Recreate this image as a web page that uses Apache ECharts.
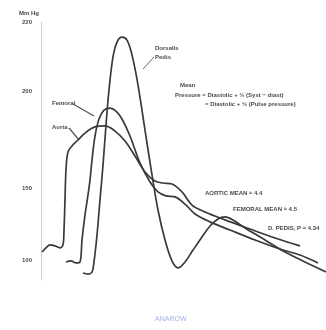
<!DOCTYPE html>
<html>
<head>
<meta charset="utf-8">
<script src="https://cdn.jsdelivr.net/npm/echarts@6/dist/echarts.min.js"></script>
<style>
  html, body { margin: 0; padding: 0; background: #ffffff; }
  #chart { width: 326px; height: 330px; }
</style>
</head>
<body>
<div id="chart"></div>
<script>
// Time after the start of the trace (ms) and pressure (mm Hg) for each vessel
const aortaTime = [3.5, 17.5, 31.6, 49.1, 66.7, 77.2, 80.7, 84.2, 87.7, 94.7, 108.8, 129.8, 154.4, 189.5, 224.6, 259.7, 294.8, 329.8, 364.9, 400.0, 428.1, 459.7, 494.7, 529.8, 575.5, 645.7, 733.4, 821.1, 908.8];
const aortaPressure = [104.0, 106.1, 107.6, 107.1, 106.1, 107.6, 115.1, 130.3, 145.4, 154.5, 157.5, 160.5, 164.0, 167.1, 167.6, 165.0, 160.0, 152.4, 144.4, 139.8, 138.8, 138.3, 134.3, 127.7, 124.2, 120.2, 115.6, 111.1, 107.1];

const femoralTime = [87.7, 105.3, 122.8, 136.8, 143.9, 154.4, 164.9, 171.9, 179.0, 189.5, 203.5, 221.1, 242.1, 263.2, 284.2, 312.3, 347.4, 382.5, 410.5, 438.6, 470.2, 505.3, 540.4, 593.0, 663.2, 750.9, 838.7, 908.8, 972.0];
const femoralPressure = [99.0, 99.5, 98.5, 99.0, 110.1, 122.7, 132.8, 140.3, 150.4, 162.5, 171.1, 175.6, 176.6, 175.1, 171.1, 162.5, 148.9, 139.3, 134.3, 132.3, 131.8, 128.2, 123.2, 119.2, 115.1, 110.1, 105.5, 102.5, 98.5];

const pedisTime = [147.4, 164.9, 179.0, 186.0, 196.5, 207.0, 217.6, 228.1, 238.6, 252.6, 266.7, 284.2, 301.8, 319.3, 340.4, 364.9, 389.5, 410.5, 435.1, 459.7, 480.7, 505.3, 533.4, 565.0, 593.0, 621.1, 645.7, 673.7, 715.8, 786.0, 856.1, 926.3, 1000];
const pedisPressure = [93.4, 92.9, 93.9, 99.0, 112.6, 130.3, 147.9, 168.1, 185.7, 202.4, 209.9, 212.4, 210.9, 203.4, 188.2, 165.5, 142.9, 125.2, 110.1, 99.5, 96.0, 99.0, 105.0, 111.6, 117.1, 120.7, 121.7, 120.2, 116.1, 110.1, 104.0, 99.0, 94.0];

// Pressure scale ticks and the text printed beside them
const tickValues = [100, 136, 185, 220];
const tickLabels = ['100', '150', '200', '220'];

function pairs(xs, ys) { return xs.map((x, i) => [x, ys[i]]); }

const chart = echarts.init(document.getElementById('chart'), null, { renderer: 'canvas' });

const ink = '#3a3a3a';
const txt = { fontFamily: 'Liberation Sans', fontWeight: 'bold', fontSize: 6, fill: '#4a4a4a' };

function traceSeries(name, data) {
  return {
    name, type: 'line', data, smooth: 0.35, symbol: 'none',
    lineStyle: { color: ink, width: 1.7 }
  };
}

chart.setOption({
  backgroundColor: '#ffffff',
  animation: false,
  grid: { left: 41, top: 22, width: 285, height: 257.8 },
  xAxis: {
    type: 'value', min: 0, max: 1000,
    axisLine: { show: false }, axisTick: { show: false },
    axisLabel: { show: false }, splitLine: { show: false }
  },
  yAxis: {
    type: 'value', min: 90, max: 220,
    name: 'Mm Hg', nameLocation: 'end', nameGap: 6,
    nameTextStyle: { fontFamily: 'Liberation Sans', fontWeight: 'bold', fontSize: 6, color: '#444', align: 'right', padding: [0, 2, 0, 0] },
    axisLine: { show: true, lineStyle: { color: '#eac3d3', width: 1 } },
    axisTick: { show: false },
    splitLine: { show: false },
    axisLabel: {
      customValues: tickValues,
      margin: 9,
      fontFamily: 'Liberation Sans', fontWeight: 'bold', fontSize: 6, color: '#4a4a4a',
      formatter: v => tickLabels[tickValues.indexOf(v)] || ''
    }
  },
  series: [
    traceSeries('Aorta', pairs(aortaTime, aortaPressure)),
    traceSeries('Femoral', pairs(femoralTime, femoralPressure)),
    traceSeries('Dorsalis Pedis', pairs(pedisTime, pedisPressure))
  ],
  graphic: [
    { type: 'text', left: 155, top: 44, style: Object.assign({ text: 'Dorsalis\nPedis', lineHeight: 9 }, txt) },
    { type: 'line', shape: { x1: 154, y1: 57, x2: 143, y2: 69 }, style: { stroke: '#666', lineWidth: 1 } },
    { type: 'text', left: 52, top: 100, style: Object.assign({ text: 'Femoral' }, txt) },
    { type: 'line', shape: { x1: 73, y1: 104, x2: 94, y2: 116 }, style: { stroke: '#555', lineWidth: 1.2 } },
    { type: 'text', left: 52, top: 124, style: Object.assign({ text: 'Aorta' }, txt) },
    { type: 'line', shape: { x1: 69, y1: 128, x2: 79, y2: 140 }, style: { stroke: '#555', lineWidth: 1.2 } },
    { type: 'text', left: 180, top: 82, style: Object.assign({ text: 'Mean' }, txt) },
    { type: 'text', left: 175, top: 92, style: Object.assign({ text: 'Pressure = Diastolic + \u2153 (Syst \u2212 diast)' }, txt) },
    { type: 'text', left: 205, top: 101, style: Object.assign({ text: '= Diastolic + \u2153 (Pulse pressure)' }, txt) },
    { type: 'text', left: 205, top: 190, style: Object.assign({ text: 'AORTIC MEAN \u2248 4.4' }, txt) },
    { type: 'text', left: 233, top: 206, style: Object.assign({ text: 'FEMORAL MEAN \u2248 4.5' }, txt) },
    { type: 'text', left: 268, top: 225, style: Object.assign({ text: 'D. PEDIS, P \u2248 4.34' }, txt) },
    { type: 'text', left: 155, top: 316, style: { text: 'ANAROW', fontFamily: 'Liberation Sans', fontSize: 7, fill: '#9fb0e6' } }
  ]
});
</script>
</body>
</html>
